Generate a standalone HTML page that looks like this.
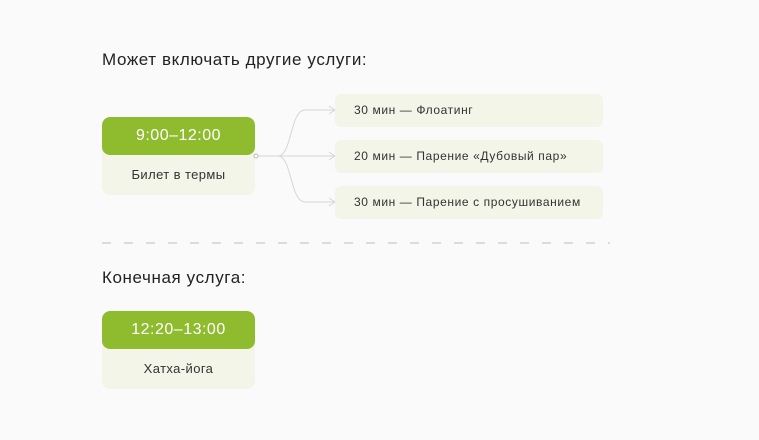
<!DOCTYPE html>
<html><head><meta charset="utf-8"><style>
body{margin:0;width:759px;height:440px;background:#fafafa;font-family:"Liberation Sans","DejaVu Sans",sans-serif;position:relative;overflow:hidden;color:#222}
.t{position:absolute;left:102px;font-size:17px;letter-spacing:0.6px;color:#222}
.card{position:absolute;left:102px;width:153px;height:78px;border-radius:8px;background:#f2f5e8;overflow:hidden}
.card .h{height:38px;background:#8fbc2f;color:#fff;font-size:16px;letter-spacing:0.5px;text-align:center;line-height:38px;border-radius:8px}
.card .b{text-align:center;font-size:13px;letter-spacing:0.4px;line-height:40px;color:#333}
.it{position:absolute;left:335px;height:33px;border-radius:6px;background:#f2f5e8;font-size:12px;letter-spacing:0.6px;line-height:33px;padding-left:19px;color:#333;box-sizing:border-box}
</style></head><body>
<div class="t" style="top:50px">Может включать другие услуги:</div>
<div class="card" style="top:117px"><div class="h">9:00–12:00</div><div class="b">Билет в термы</div></div>
<svg style="position:absolute;left:0;top:0" width="759" height="440">
<g fill="none" stroke="#d6d6d6" stroke-width="1">
<path d="M255 156 H278 C292 156 290 110 305 110 H335"/>
<path d="M255 156 H335"/>
<path d="M255 156 H278 C292 156 290 202 305 202 H335"/>
<path d="M329 106 L335 110 L329 114 M329 152 L335 156 L329 160 M329 198 L335 202 L329 206"/>
</g>
<circle cx="256" cy="156" r="2" fill="#fff" stroke="#bbb"/>
<line x1="102" y1="243" x2="610" y2="243" stroke="#dcdcdc" stroke-width="2" stroke-dasharray="9 13"/>
</svg>
<div class="it" style="top:94px;width:268px">30 мин — Флоатинг</div>
<div class="it" style="top:140px;width:268px">20 мин — Парение «Дубовый пар»</div>
<div class="it" style="top:186px;width:268px">30 мин — Парение с просушиванием</div>
<div class="t" style="top:268px">Конечная услуга:</div>
<div class="card" style="top:311px"><div class="h">12:20–13:00</div><div class="b">Хатха-йога</div></div>
</body></html>
